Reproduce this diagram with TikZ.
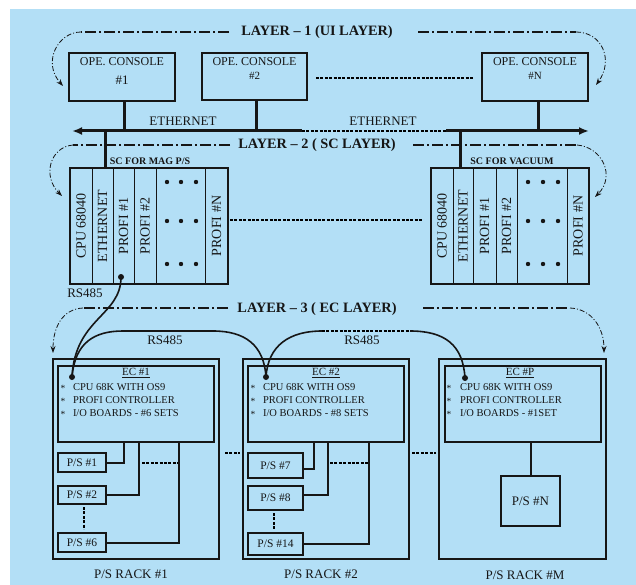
\documentclass[tikz,border=0pt]{standalone}
\usepackage{fontspec}
\setmainfont{Liberation Serif}
\usetikzlibrary{arrows.meta,calc}
\definecolor{bgblue}{RGB}{179,223,246}
\definecolor{ink}{RGB}{22,22,22}
\begin{document}
\begin{tikzpicture}[x=1pt,y=-1pt,
  every node/.style={inner sep=0pt,outer sep=0pt,text=ink},
  box/.style={draw=ink,line width=1.5pt},
  rackbox/.style={draw=ink,line width=1.2pt},
  divl/.style={draw=ink,line width=0.9pt},
  conn/.style={draw=ink,line width=2pt},
  eth/.style={draw=ink,line width=3pt},
  dotl/.style={draw=black,line width=2.6pt,dash pattern=on 3pt off 1.4pt},
  dd/.style={draw=ink,line width=1.3pt,dash pattern=on 11pt off 3pt on 2pt off 3pt},
  ddc/.style={draw=ink,line width=0.8pt,dash pattern=on 5pt off 2pt on 1pt off 2pt,-{Stealth[length=7pt,width=5pt]}},
  ttl/.style={font=\fontsize{14.3}{16}\selectfont\bfseries},
  sct/.style={font=\fontsize{10}{11}\selectfont\bfseries},
  opet/.style={font=\fontsize{12}{13}\selectfont},
  big/.style={font=\fontsize{13}{15}\selectfont},
  col/.style={font=\fontsize{14}{15}\selectfont,rotate=90},
  ect/.style={font=\fontsize{10.5}{12}\selectfont,anchor=west},
  ech/.style={font=\fontsize{11}{12}\selectfont},
  ast/.style={font=\fontsize{9.5}{10}\selectfont},
  pst/.style={font=\fontsize{11.5}{13}\selectfont},
  dot/.style={fill=ink,circle,minimum size=4.4pt},
  bdot/.style={fill=ink,circle,minimum size=6pt}
]
\useasboundingbox (0,0) rectangle (636,585);
\fill[bgblue] (10,9) rectangle (636,585);

% ---------------- LAYER 1 ----------------
\node[ttl] (l1) at (317,32) {LAYER – 1 (UI LAYER)};
\coordinate (l1a) at (229,32); \coordinate (l1b) at (81,32); \coordinate (l1tipL) at (63,86);
\coordinate (l1c) at (418,32); \coordinate (l1d) at (576,32); \coordinate (l1tipR) at (596,85);
\draw[dd] (l1a) -- (l1b);
\draw[ddc] (l1b) .. controls (58,32) and (42,62) .. (l1tipL);
\draw[dd] (l1c) -- (l1d);
\draw[ddc] (l1d) .. controls (602,32) and (614,60) .. (l1tipR);

\node[box,minimum width=106pt,minimum height=48pt] (c1) at (122,77) {};
\node[box,minimum width=105pt,minimum height=47pt] (c2) at (254.5,76.5) {};
\node[box,minimum width=106pt,minimum height=48pt] (cN) at (535,77) {};
\node[opet] (c1t) at (122,62) {OPE. CONSOLE};
\node[big] (c1n) at (122,80) {\#1};
\node[opet] (c2t) at (254.5,61.5) {OPE. CONSOLE};
\node[opet,font=\fontsize{11}{12}\selectfont] (c2n) at (254.5,76) {\#2};
\node[opet] (cNt) at (535,62) {OPE. CONSOLE};
\node[opet,font=\fontsize{11}{12}\selectfont] (cNn) at (535,76) {\#N};
\draw[dotl,line width=2.4pt] (c2.east |- 0,78) ++(9,0) coordinate (cd1) -- ($(cN.west |- 0,78)+(-9,0)$) coordinate (cd2);

% ethernet
\coordinate (ethL) at (72,131); \coordinate (ethA) at (302,131);
\coordinate (ethB) at (446,131); \coordinate (ethR) at (589,131);
\coordinate (e1) at (124,131); \coordinate (e2) at (256,131); \coordinate (eN) at (538,131);
\coordinate (e3) at (105,131); \coordinate (e4) at (460,131);
\draw[eth] (c1.south -| e1) -- (e1);
\draw[eth] (c2.south -| e2) -- (e2);
\draw[eth] (cN.south -| eN) -- (eN);
\draw[eth,{Latex[length=10pt,width=8pt]}-] (ethL) -- (ethA);
\draw[dotl,line width=2.3pt] (ethA) -- (ethB);
\draw[eth,-{Latex[length=10pt,width=8pt]}] (ethB) -- (ethR);
\node[big] (eth1) at (183,121) {ETHERNET};
\node[big] (eth2) at (383,121) {ETHERNET};

% ---------------- LAYER 2 ----------------
\node[ttl] (l2) at (317,145) {LAYER – 2 ( SC LAYER)};
\coordinate (l2a) at (230,145); \coordinate (l2b) at (73,145); \coordinate (l2tipL) at (62,196);
\coordinate (l2c) at (413,145); \coordinate (l2d) at (577,145); \coordinate (l2tipR) at (595,197);
\draw[dd] (l2a) -- (l2b);
\draw[ddc] (l2b) .. controls (50,147) and (42,176) .. (l2tipL);
\draw[dd] (l2c) -- (l2d);
\draw[ddc] (l2d) .. controls (602,147) and (616,176) .. (l2tipR);

\node[box,minimum width=158pt,minimum height=116pt] (sc1) at (149,226) {};
\node[box,minimum width=158pt,minimum height=116pt] (sc2) at (510,226) {};
\draw[eth] (e3) -- (sc1.north -| e3);
\draw[eth] (e4) -- (sc2.north -| e4);
\foreach \x in {92,113,134,156,205} \draw[divl] (\x,168) -- (\x,284);
\foreach \x in {453,473,496,517,567} \draw[divl] (\x,168) -- (\x,284);
\node[sct] (sc1t) at (150,161) {SC FOR MAG P/S};
\node[sct] (sc2t) at (512,161) {SC FOR VACUUM};
\node[col] (a1) at (81,226) {CPU 68040};
\node[col] (a2) at (102.5,226) {ETHERNET};
\node[col] (a3) at (123.5,226) {PROFI \#1};
\node[col] (a4) at (145,226) {PROFI \#2};
\node[col] (a6) at (216.5,226) {PROFI \#N};
\node[col] (b1) at (442,226) {CPU 68040};
\node[col] (b2) at (463,226) {ETHERNET};
\node[col] (b3) at (484.5,226) {PROFI \#1};
\node[col] (b4) at (506.5,226) {PROFI \#2};
\node[col] (b6) at (578,226) {PROFI \#N};
\foreach \y in {182,221,264}{
  \foreach \x in {167,181,196} \node[dot] at (\x,\y) {};
  \foreach \x in {528,543,558} \node[dot] at (\x,\y) {};
}
\draw[dotl,line width=2.3pt] (sc1.east |- 0,220) ++(2,0) coordinate (sd1) -- ($(sc2.west |- 0,220)+(-8,0)$) coordinate (sd2);
\node[bdot] (s1dot) at (121,277) {};
\node[big] (rs1) at (85,293) {RS485};

% ---------------- LAYER 3 ----------------
\node[ttl] (l3) at (317,309) {LAYER – 3 ( EC LAYER)};
\coordinate (l3a) at (228,308); \coordinate (l3b) at (83,308); \coordinate (l3tipL) at (53,353);
\coordinate (l3c) at (423,308); \coordinate (l3d) at (570,308); \coordinate (l3tipR) at (604,353);
\draw[dd] (l3a) -- (l3b);
\draw[ddc] (l3b) .. controls (62,309) and (53,328) .. (l3tipL);
\draw[dd] (l3c) -- (l3d);
\draw[ddc] (l3d) .. controls (592,309) and (604,328) .. (l3tipR);

% racks
\node[rackbox,minimum width=166pt,minimum height=200pt] (r1) at (136,459) {};
\node[rackbox,minimum width=166pt,minimum height=200pt] (r2) at (326,459) {};
\node[rackbox,minimum width=167pt,minimum height=200pt] (rM) at (522.5,459) {};
\node[box,minimum width=156pt,minimum height=76pt] (ec1) at (136,404) {};
\node[box,minimum width=156pt,minimum height=76pt] (ec2) at (326,404) {};
\node[box,minimum width=156pt,minimum height=76pt] (ecP) at (523,404) {};

\node[ech] (ec1h) at (136,373) {\underline{EC \#1}};
\node[ast] (ea1) at (63,388) {*};
\node[ast] (ea2) at (63,401) {*};
\node[ast] (ea3) at (63,414) {*};
\node[ect] (ec1a) at (73,387) {CPU 68K WITH OS9};
\node[ect] (ec1b) at (73,400) {PROFI CONTROLLER};
\node[ect] (ec1c) at (73,413) {I/O BOARDS - \#6 SETS};

\node[ech] (ec2h) at (326,373) {\underline{EC \#2}};
\node[ast] (eb1) at (253,388) {*};
\node[ast] (eb2) at (253,401) {*};
\node[ast] (eb3) at (253,414) {*};
\node[ect] (ec2a) at (263,387) {CPU 68K WITH OS9};
\node[ect] (ec2b) at (263,400) {PROFI CONTROLLER};
\node[ect] (ec2c) at (263,413) {I/O BOARDS - \#8 SETS};

\node[ech] (ecPh) at (520,373) {\underline{EC \#P}};
\node[ast] (ec1x) at (449,388) {*};
\node[ast] (ec2x) at (449,401) {*};
\node[ast] (ec3x) at (449,414) {*};
\node[ect] (ecPa) at (460,387) {CPU 68K WITH OS9};
\node[ect] (ecPb) at (460,400) {PROFI CONTROLLER};
\node[ect] (ecPc) at (460,413) {I/O BOARDS - \#1SET};

% RS485 links
\node[bdot] (ec1dot) at (72,377) {};
\node[bdot] (ec2dot) at (266,377) {};
\node[bdot] (ecPdot) at (465,378) {};
\draw[conn,line width=1.6pt] (s1dot.center) .. controls (121,316) and (75,318) .. (ec1dot.center);
\coordinate (ra) at (123,331); \coordinate (rb) at (213,331);
\coordinate (rc) at (322,331); \coordinate (rd) at (410,331);
\draw[conn,line width=1.6pt] (ec1dot.center) .. controls (75,342) and (95,331) .. (ra) -- (rb)
   .. controls (245,331) and (264,345) .. (ec2dot.center);
\draw[conn,line width=1.6pt] (ec2dot.center) .. controls (268,345) and (290,331) .. (rc);
\draw[dotl,line width=2pt] (rc) -- (rd);
\draw[conn,line width=1.6pt] (rd) .. controls (445,331) and (463,345) .. (ecPdot.center);
\node[big] (rs2) at (165,340) {RS485};
\node[big] (rs3) at (362,340) {RS485};

% P/S boxes rack 1
\node[box,minimum width=48pt,minimum height=19pt] (ps1) at (82,462.5) {};
\node[box,minimum width=48pt,minimum height=18pt] (ps2) at (82,495) {};
\node[box,minimum width=48pt,minimum height=19pt] (ps6) at (82,542.5) {};
\node[pst] at (ps1) {P/S \#1};
\node[pst] at (ps2) {P/S \#2};
\node[pst] at (ps6) {P/S \#6};
\coordinate (k1) at (124,442); \coordinate (k2) at (139,442); \coordinate (k3) at (179,442);
\draw[conn] (ps1.east) -| (k1);
\draw[conn] (ps2.east) -| (k2);
\draw[conn] (ps6.east) -| (k3);
\coordinate (d1a) at (142,463); \coordinate (d1b) at (178,463);
\draw[dotl,line width=2.2pt] (d1a) -- (d1b);
\draw[dotl,line width=2.2pt] (ps2.south) ++(2,3) coordinate (v1a) -- ($(ps6.north)+(2,-4)$) coordinate (v1b);

% P/S boxes rack 2
\node[box,minimum width=55pt,minimum height=25pt] (ps7) at (275.5,465.5) {};
\node[box,minimum width=55pt,minimum height=24pt] (ps8) at (275.5,498) {};
\node[box,minimum width=55pt,minimum height=22pt] (ps14) at (275.5,544) {};
\node[pst] at (ps7) {P/S \#7};
\node[pst] at (ps8) {P/S \#8};
\node[pst] at (ps14) {P/S \#14};
\coordinate (k4) at (314,442); \coordinate (k5) at (328,442); \coordinate (k6) at (369,442);
\draw[conn] ($(ps7.east)+(0,3)$) -| (k4);
\draw[conn] ($(ps8.east)+(0,-3)$) -| (k5);
\draw[conn] (ps14.east) -| (k6);
\coordinate (d2a) at (330,463); \coordinate (d2b) at (368,463);
\draw[dotl,line width=2.2pt] (d2a) -- (d2b);
\draw[dotl,line width=2.2pt] (ps8.south) ++(-1.5,3) coordinate (v2a) -- ($(ps14.north)+(-1.5,-4)$) coordinate (v2b);

% rack M
\node[box,minimum width=59pt,minimum height=50pt] (psN) at (530.5,501) {};
\node[big] at (psN) {P/S \#N};
\draw[conn] (ecP.south -| psN) -- (psN.north);

% dots between racks
\draw[dotl,line width=2.8pt] (r1.east |- 0,453) ++(6,0) coordinate (g1a) -- ($(r2.west |- 0,453)+(-3,0)$) coordinate (g1b);
\draw[dotl,line width=2.8pt] (r2.east |- 0,453) ++(3,0) coordinate (g2a) -- ($(rM.west |- 0,453)+(-3,0)$) coordinate (g2b);

\node[big] (rl1) at (131,574) {P/S RACK \#1};
\node[big] (rl2) at (321,574) {P/S RACK \#2};
\node[big] (rlM) at (525,575) {P/S RACK \#M};
\end{tikzpicture}
\end{document}
